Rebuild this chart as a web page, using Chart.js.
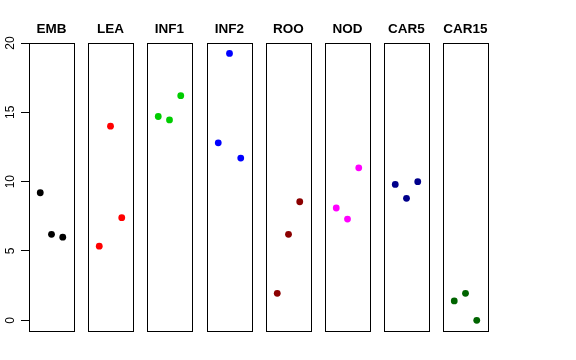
<!DOCTYPE html>
<html>
<head>
<meta charset="utf-8">
<script src="https://cdn.jsdelivr.net/npm/chart.js@4"></script>
<style>
  body { margin: 0; background: #fff; }
  #wrap { position: relative; width: 576px; height: 360px; }
  #wrap canvas { position: absolute; top: 0; }
</style>
</head>
<body>
<div id="wrap"></div>
<script>
const groups = ["EMB", "LEA", "INF1", "INF2", "ROO", "NOD", "CAR5", "CAR15"];
const colors = ["#000000", "#FF0000", "#00CD00", "#0000FF", "#8B0000", "#FF00FF", "#00008B", "#006400"];
const reps = [1, 2, 3];
const EMB = [9.2, 6.2, 6.0];
const LEA = [5.35, 14.0, 7.4];
const INF1 = [14.7, 14.45, 16.2];
const INF2 = [12.8, 19.25, 11.7];
const ROO = [1.95, 6.2, 8.55];
const NOD = [8.1, 7.3, 11.0];
const CAR5 = [9.8, 8.8, 10.0];
const CAR15 = [1.4, 1.95, 0.0];
const values = [EMB, LEA, INF1, INF2, ROO, NOD, CAR5, CAR15];
const yTicks = [0, 5, 10, 15, 20];

const wrap = document.getElementById("wrap");

// box around each panel, like R's box()
const boxPlugin = {
  id: 'box',
  afterDraw(chart) {
    const a = chart.chartArea;
    const c = chart.ctx;
    c.save();
    c.strokeStyle = '#000';
    c.lineWidth = 1;
    c.strokeRect(Math.round(a.left) + 0.5, Math.round(a.top) + 0.5,
                 Math.round(a.right - a.left), Math.round(a.bottom - a.top));
    c.restore();
  }
};

// rotated y tick labels (read bottom to top)
const yLabels = {
  id: 'ylabels',
  afterDraw(chart) {
    const y = chart.scales.y;
    if (!y.options.display) return;
    const c = chart.ctx;
    c.save();
    c.font = '12px "Liberation Sans", Arial, sans-serif';
    c.fillStyle = '#000';
    c.textAlign = 'center';
    c.textBaseline = 'middle';
    yTicks.forEach(v => {
      c.save();
      c.translate(11, y.getPixelForValue(v));
      c.rotate(-Math.PI / 2);
      c.fillText(String(v), 0, 0);
      c.restore();
    });
    c.restore();
  }
};

groups.forEach((name, i) => {
  const left = 29 + Math.round(i * 59.2);
  const cv = document.createElement('canvas');
  cv.width = 82;
  cv.height = 360;
  cv.style.left = (left - 29) + 'px';
  wrap.appendChild(cv);
  const first = i === 0;

  new Chart(cv.getContext('2d'), {
    type: 'scatter',
    data: {
      datasets: [{
        data: reps.map((r, k) => ({ x: r, y: values[i][k] })),
        backgroundColor: colors[i],
        borderColor: colors[i],
        borderWidth: 0,
        pointRadius: 3.4,
      }]
    },
    options: {
      responsive: false,
      animation: false,
      events: [],
      layout: { padding: { left: first ? 0 : 29, right: 8, top: 0, bottom: 29 } },
      plugins: {
        legend: { display: false },
        tooltip: { enabled: false },
        title: {
          display: true,
          text: name,
          fullSize: false,
          color: '#000',
          font: { family: '"Liberation Sans", Arial, sans-serif', size: 13.5, weight: 'bold', lineHeight: '16px' },
          padding: { top: 21, bottom: 6 }
        }
      },
      scales: {
        x: { type: 'linear', display: false, min: 0, max: 4 },
        y: {
          display: first,
          min: -0.77,
          max: 20,
          afterBuildTicks: s => { s.ticks = yTicks.map(v => ({ value: v })); },
          afterFit: s => { s.width = first ? 29 : 0; },
          border: { display: false },
          grid: { drawOnChartArea: false, drawTicks: true, tickLength: 8, color: '#000' },
          ticks: { display: false }
        }
      }
    },
    plugins: [boxPlugin, yLabels]
  });
});
</script>
</body>
</html>
